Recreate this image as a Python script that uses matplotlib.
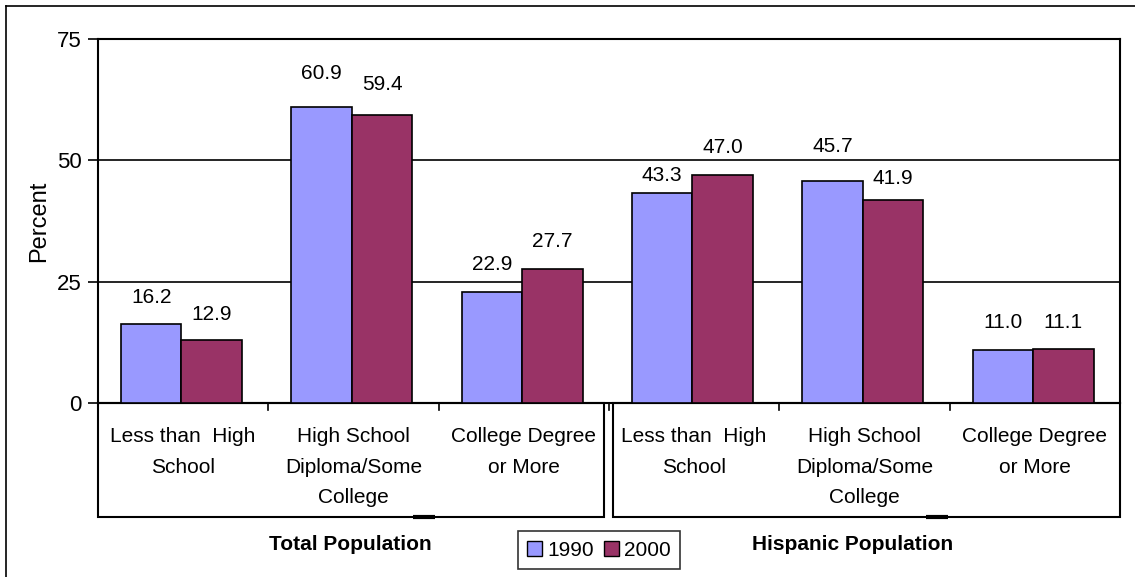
import numpy as np
import matplotlib
matplotlib.use("Agg")
import matplotlib.pyplot as plt
import matplotlib.transforms as mtransforms
from matplotlib.patches import Rectangle, Patch

plt.rcParams['font.family'] = ['Liberation Sans', 'DejaVu Sans']

# --- data ---
categories = ['Less than  High\nSchool', 'High School\nDiploma/Some\nCollege', 'College Degree\nor More']
groups = ['Total Population', 'Hispanic Population']
years = ['1990', '2000']
vals_1990 = [16.2, 60.9, 22.9, 43.3, 45.7, 11.0]
vals_2000 = [12.9, 59.4, 27.7, 47.0, 41.9, 11.1]
yticks = [0, 25, 50, 75]

# label gaps above each bar (pixels), the original has them nudged by hand
gap_1990 = [27, 34, 27, 17, 35, 27]
gap_2000 = [26, 30, 27, 27, 21, 27]

col_1990 = '#9999FF'
col_2000 = '#993366'

W, H = 1135, 577
fig = plt.figure(figsize=(W / 100, H / 100), dpi=100)
ax = fig.add_axes([98 / W, 1 - 403 / H, (1120 - 98) / W, (403 - 39) / H])

n = len(vals_1990)
centers = np.arange(n) + 0.49
bw = 0.355
ax.bar(centers - bw / 2, vals_1990, width=bw, color=col_1990, edgecolor='black', linewidth=1.2, zorder=3)
ax.bar(centers + bw / 2, vals_2000, width=bw, color=col_2000, edgecolor='black', linewidth=1.2, zorder=3)

px = 72 / 100
for x, v, g in zip(centers - bw / 2, vals_1990, gap_1990):
    ax.annotate(f'{v:.1f}', (x, v), xytext=(0, g * px), textcoords='offset points',
                ha='center', va='center', fontsize=15)
for x, v, g in zip(centers + bw / 2, vals_2000, gap_2000):
    ax.annotate(f'{v:.1f}', (x, v), xytext=(0, g * px), textcoords='offset points',
                ha='center', va='center', fontsize=15)

ax.set_xlim(0, n)
ax.set_ylim(0, 75)
ax.set_yticks(yticks)
ax.set_yticklabels([str(t) for t in yticks], fontsize=16)
ax.tick_params(axis='y', length=7, width=1.2, pad=5)
ax.set_xticks([])
for y in yticks[1:-1]:
    ax.axhline(y, color='black', linewidth=1.2, zorder=1)
for s in ax.spines.values():
    s.set_linewidth(1.5)
ax.set_ylabel('Percent', fontsize=17, labelpad=5)

# --- category boxes below the axis ---
tr = mtransforms.blended_transform_factory(ax.transData, ax.transAxes)
ph = 403 - 39
box_bot = -(517 - 403) / ph
tick_len = -7 / ph
boxes = [(0, 2.97), (3.025, 6.0)]
for x0, x1 in boxes:
    ax.add_patch(Rectangle((x0, box_bot), x1 - x0, -box_bot, transform=tr, fill=False,
                           edgecolor='black', linewidth=1.5, clip_on=False))
for xt in [1, 2, 3, 4, 5]:
    ax.plot([xt, xt], [0, tick_len], transform=tr, color='black', linewidth=1.2, clip_on=False)
for i in range(n):
    ax.text(i + 0.5, -(427 - 403) / ph, categories[i % 3], transform=tr, ha='center', va='top',
            fontsize=15, linespacing=1.78)

# small dashes on the box bottoms
for xd in [(1.85, 1.98), (4.86, 4.99)]:
    ax.plot(xd, [box_bot, box_bot], transform=tr, color='black', linewidth=3, clip_on=False,
            solid_capstyle='butt')

ax.text(1.48, -(545 - 403) / ph, groups[0], transform=tr, ha='center', va='center',
        fontsize=15, fontweight='bold')
ax.text(4.43, -(545 - 403) / ph, groups[1], transform=tr, ha='center', va='center',
        fontsize=15, fontweight='bold')

# --- legend ---
handles = [Patch(facecolor=col_1990, edgecolor='black', label=years[0]),
           Patch(facecolor=col_2000, edgecolor='black', label=years[1])]
leg = fig.legend(handles=handles, loc='center', bbox_to_anchor=(599 / W, 1 - 550 / H), ncol=2,
                 fontsize=15, frameon=True, fancybox=False, edgecolor='black',
                 handlelength=0.7, handleheight=0.7, handletextpad=0.25, columnspacing=0.5,
                 borderpad=0.45, borderaxespad=0)
leg.get_frame().set_linewidth(1.2)

# --- outer chart border ---
fig.add_artist(plt.Line2D([6 / W, 1.0], [1 - 6 / H, 1 - 6 / H], color='black', linewidth=1.2))
fig.add_artist(plt.Line2D([6 / W, 6 / W], [0, 1 - 6 / H], color='black', linewidth=1.2))

fig.savefig('out.png', dpi=100)
